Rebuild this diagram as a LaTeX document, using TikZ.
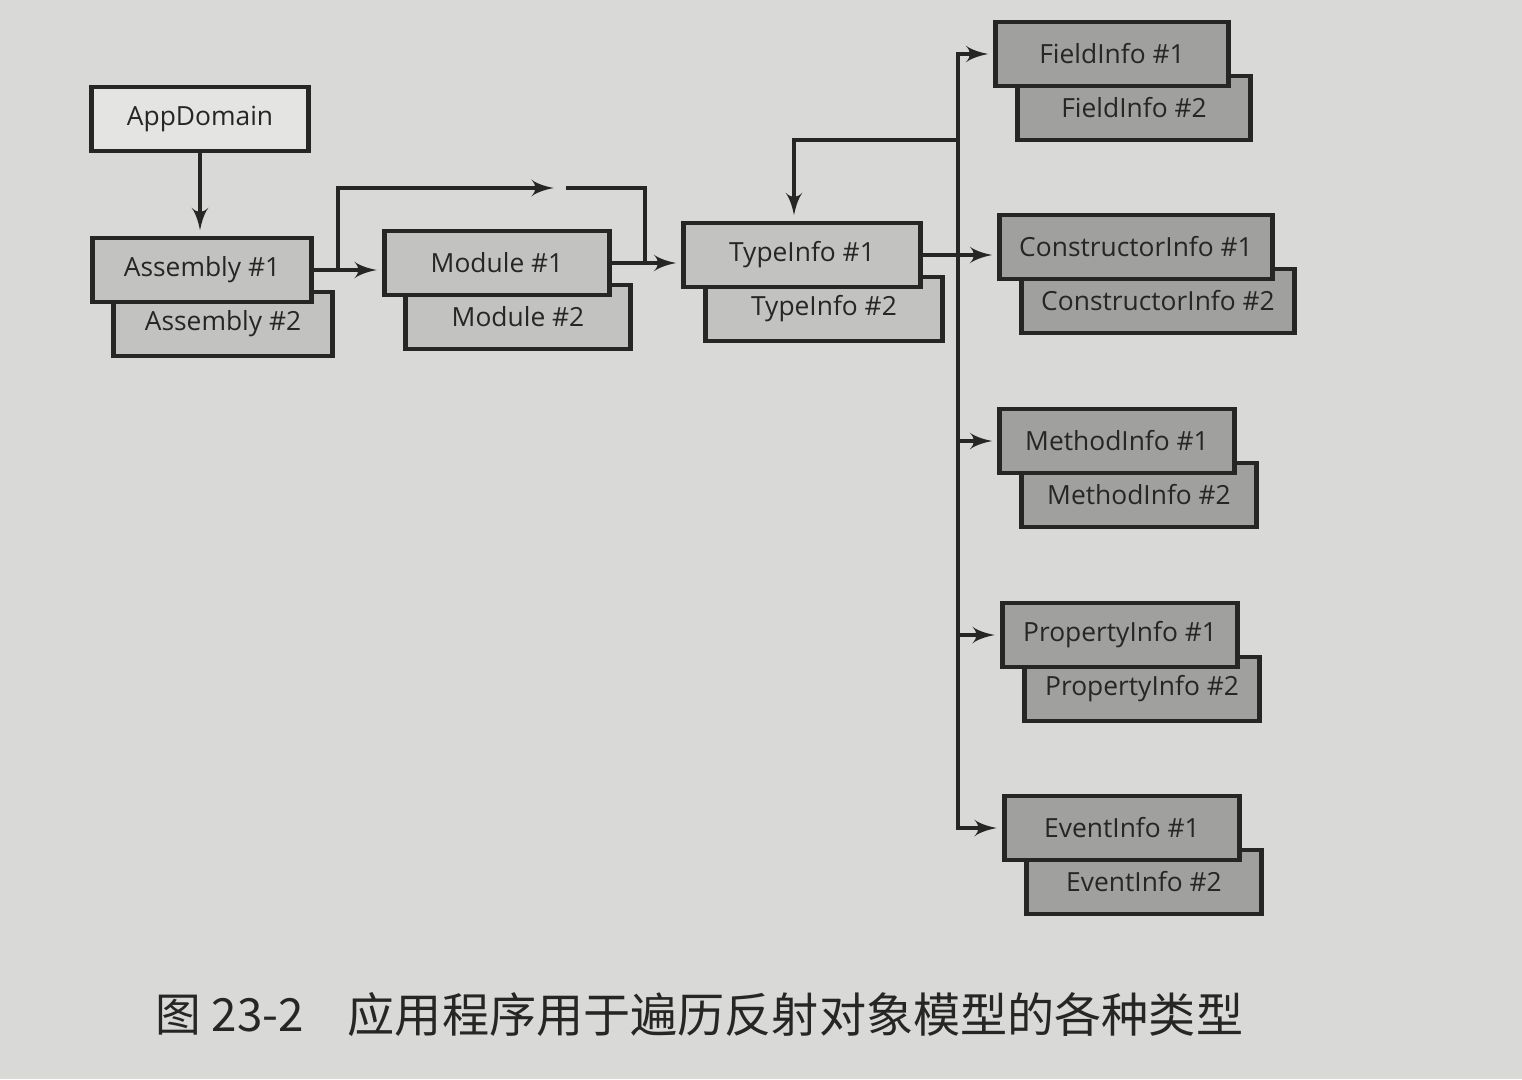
\documentclass[tikz,border=0pt]{standalone}
\usepackage{fontspec}
\setmainfont{Open Sans}
\newfontfamily\cjk{Noto Sans CJK SC}
\usetikzlibrary{arrows,positioning}
\definecolor{paper}{HTML}{D9D9D7}
\definecolor{ink}{HTML}{262626}
\definecolor{paleface}{HTML}{E4E4E2}
\definecolor{midface}{HTML}{C2C2C0}
\definecolor{darkface}{HTML}{A0A09E}

\begin{document}
\begin{tikzpicture}[x=0.01cm, y=-0.01cm, >=latex', line width=1.2pt, draw=ink,
 block/.style = {draw=ink, rectangle, line width=1.4pt, minimum height=0.64cm,
                 text=ink, font=\fontsize{7.5}{9}\selectfont},
wblock/.style = {block, fill=paleface},
gblock/.style = {block, fill=midface},
dblock/.style = {block, fill=darkface},
  link/.style = {draw=ink, ->, shorten >=1.5pt},
                        ]
    \useasboundingbox[fill=paper] (0,0) rectangle (1522,1079);

    \node [wblock, minimum width=2.17cm]   (ad)    at (200,119)  {AppDomain};
    % assemblies, modules, types
    \node [gblock, minimum width=2.18cm]   (asm2)  at (223,324)  {Assembly \#2};
    \node [gblock, minimum width=2.18cm]   (asm1)  at (202,270)  {Assembly \#1};
    \node [gblock, minimum width=2.25cm]   (mod2)  at (518,317)  {Module \#2};
    \node [gblock, minimum width=2.25cm]   (mod1)  at (497,263)  {Module \#1};
    \node [gblock, minimum width=2.36cm]   (ti2)   at (824,309)  {TypeInfo \#2};
    \node [gblock, minimum width=2.36cm]   (ti1)   at (802,255)  {TypeInfo \#1};
    % members
    \node [dblock, minimum width=2.32cm]   (fi2)   at (1134,108) {FieldInfo \#2};
    \node [dblock, minimum width=2.32cm]   (fi1)   at (1112,54)  {FieldInfo \#1};
    \node [dblock, minimum width=2.72cm]   (ci2)   at (1158,301) {ConstructorInfo \#2};
    \node [dblock, minimum width=2.72cm]   (ci1)   at (1136,247) {ConstructorInfo \#1};
    \node [dblock, minimum width=2.34cm]   (mi2)   at (1139,495) {MethodInfo \#2};
    \node [dblock, minimum width=2.34cm]   (mi1)   at (1117,441) {MethodInfo \#1};
    \node [dblock, minimum width=2.35cm]   (pi2)   at (1142,689) {PropertyInfo \#2};
    \node [dblock, minimum width=2.35cm]   (pi1)   at (1120,635) {PropertyInfo \#1};
    \node [dblock, minimum width=2.35cm]   (ei2)   at (1144,882) {EventInfo \#2};
    \node [dblock, minimum width=2.35cm]   (ei1)   at (1122,828) {EventInfo \#1};

    % junctions
    \coordinate (asmj)  at (338,270);
    \coordinate (skipa) at (559,188);
    \coordinate (skipb) at (566,188);
    \coordinate (modj)  at (645,263);
    \coordinate (bus)   at (958,140);
    \coordinate (tidrop) at (794,140);

    \path[link] (ad.south)  edge (ad.south |- asm1.north)
                (asm1.east) edge (asm1.east -| mod1.west)
                (mod1.east) edge (mod1.east -| ti1.west)
                (ti1.east)  edge (ti1.east -| ci1.west)
                (asmj)      |-   (skipa);
    \draw[ink]  (skipb) -| (modj);
    \path[link] (bus)       |-   (fi1.west);
    \path[link] (bus) -- (tidrop) -- (tidrop |- ti1.north);
    \path[link] (bus)       |-   (ei1.west);
    \path[link] (bus |- mi1.west) -- (mi1.west);
    \path[link] (bus |- pi1.west) -- (pi1.west);

    % caption
    \node [anchor=west, text=ink, font=\cjk\fontsize{13}{16}\selectfont] (capnum)
          at (142,1015) {图 23-2};
    \node [anchor=west, text=ink, font=\cjk\fontsize{13.4}{16}\selectfont] (captext)
          at (334,1015) {应用程序用于遍历反射对象模型的各种类型};
\end{tikzpicture}
\end{document}
